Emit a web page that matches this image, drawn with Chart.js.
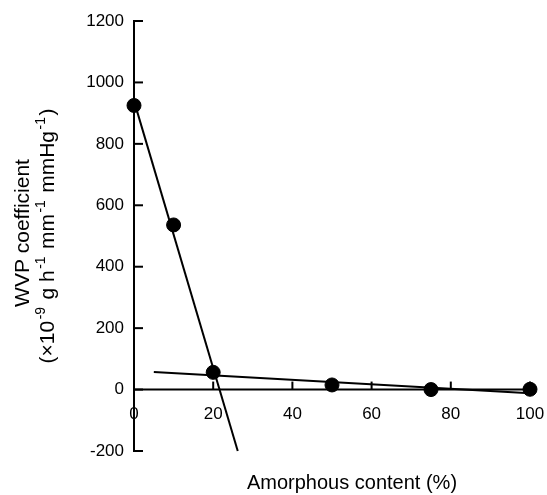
<!DOCTYPE html>
<html>
<head>
<meta charset="utf-8">
<title>WVP coefficient vs amorphous content</title>
<script src="https://cdn.jsdelivr.net/npm/chart.js@4.4.1/dist/chart.umd.min.js"></script>
<style>
  html, body { margin: 0; padding: 0; background: #fff; }
  #wrap { width: 547px; height: 495px; }
</style>
</head>
<body>
<div id="wrap"><canvas id="wvpChart" width="547" height="495"></canvas></div>
<script>
// measured samples
const amorphousPct = [0, 10, 20, 50, 75, 100];
const wvpValues = [925, 536, 56, 15, 0, 1];

// fitted lines (end points)
const steepFitX = [0, 26.2];
const steepFitY = [940, -200];
const flatFitX = [5, 100];
const flatFitY = [57, -12];

// axis ranges and tick steps
const xRange = [0, 100];
const xStep = 20;
const yRange = [-200, 1200];
const yStep = 200;

const fontFamily = '"Liberation Sans", Arial, Helvetica, sans-serif';

function toPoints(xs, ys) {
  return xs.map((x, i) => ({ x, y: ys[i] }));
}

// draws a string made of normal and superscript pieces, centred at 0
function drawRichText(ctx, parts, size) {
  const supSize = Math.round(size * 0.68);
  const gap = 1.5;
  const widths = parts.map(p => {
    ctx.font = `${p.sup ? supSize : size}px ${fontFamily}`;
    return ctx.measureText(p.text).width + (p.sup ? gap * 2 : 0);
  });
  const total = widths.reduce((a, b) => a + b, 0);
  let x = -total / 2;
  ctx.textAlign = 'left';
  parts.forEach((p, i) => {
    ctx.font = `${p.sup ? supSize : size}px ${fontFamily}`;
    ctx.fillText(p.text, p.sup ? x + gap : x, p.sup ? -size * 0.42 : 0);
    x += widths[i];
  });
}

const axesPlugin = {
  id: 'crossAxes',
  afterDraw(chart) {
    const { ctx, scales: { x, y } } = chart;
    const x0 = x.getPixelForValue(0);
    const y0 = y.getPixelForValue(0);
    const yTop = y.getPixelForValue(yRange[1]);
    const yBot = y.getPixelForValue(yRange[0]);
    const xEnd = x.getPixelForValue(xRange[1]);

    ctx.save();
    ctx.strokeStyle = '#000';
    ctx.fillStyle = '#000';
    ctx.lineWidth = 2;
    ctx.lineCap = 'butt';

    // axis lines
    ctx.beginPath();
    ctx.moveTo(x0, yTop - 1);
    ctx.lineTo(x0, yBot + 1);
    ctx.moveTo(x0, y0);
    ctx.lineTo(xEnd, y0);
    ctx.stroke();

    // y ticks point inward
    ctx.font = `17px ${fontFamily}`;
    ctx.textAlign = 'right';
    ctx.textBaseline = 'middle';
    y.ticks.forEach(t => {
      const py = y.getPixelForValue(t.value);
      ctx.beginPath();
      ctx.moveTo(x0, py);
      ctx.lineTo(x0 + 9, py);
      ctx.stroke();
      ctx.fillText(String(t.value), x0 - 10, py);
    });

    // x ticks rise from the zero line, labels sit under it
    ctx.textAlign = 'center';
    ctx.textBaseline = 'middle';
    x.ticks.forEach(t => {
      const px = x.getPixelForValue(t.value);
      if (t.value !== 0) {
        ctx.beginPath();
        ctx.moveTo(px, y0);
        ctx.lineTo(px, y0 - 8);
        ctx.stroke();
      }
      ctx.fillText(String(t.value), px, y0 + 25);
    });

    // x title
    ctx.font = `20px ${fontFamily}`;
    ctx.textBaseline = 'alphabetic';
    ctx.fillText('Amorphous content (%)', 352, 489);

    // y title, two rotated lines
    ctx.translate(29, 233);
    ctx.rotate(-Math.PI / 2);
    ctx.font = `21px ${fontFamily}`;
    ctx.fillText('WVP coefficient', 0, 0);
    ctx.translate(-3, 25);
    drawRichText(ctx, [
      { text: '(×10' }, { text: '-9', sup: true },
      { text: ' g h' }, { text: '-1', sup: true },
      { text: ' mm' }, { text: '-1', sup: true },
      { text: ' mmHg' }, { text: '-1', sup: true },
      { text: ')' }
    ], 21);
    ctx.restore();
  }
};

const lineStyle = {
  type: 'line',
  borderColor: '#000',
  borderWidth: 2,
  pointRadius: 0,
  fill: false,
  clip: false
};

new Chart(document.getElementById('wvpChart'), {
  type: 'scatter',
  data: {
    datasets: [
      {
        label: 'Measured',
        data: toPoints(amorphousPct, wvpValues),
        backgroundColor: '#000',
        borderColor: '#000',
        pointRadius: 7,
        clip: false
      },
      Object.assign({ label: 'Fit 1', data: toPoints(steepFitX, steepFitY) }, lineStyle),
      Object.assign({ label: 'Fit 2', data: toPoints(flatFitX, flatFitY) }, lineStyle)
    ]
  },
  options: {
    responsive: false,
    animation: false,
    events: [],
    layout: { padding: { left: 134, right: 17, top: 21, bottom: 44 } },
    plugins: { legend: { display: false }, tooltip: { enabled: false } },
    scales: {
      x: { type: 'linear', min: xRange[0], max: xRange[1], display: false, ticks: { stepSize: xStep } },
      y: { type: 'linear', min: yRange[0], max: yRange[1], display: false, ticks: { stepSize: yStep } }
    }
  },
  plugins: [axesPlugin]
});
</script>
</body>
</html>
